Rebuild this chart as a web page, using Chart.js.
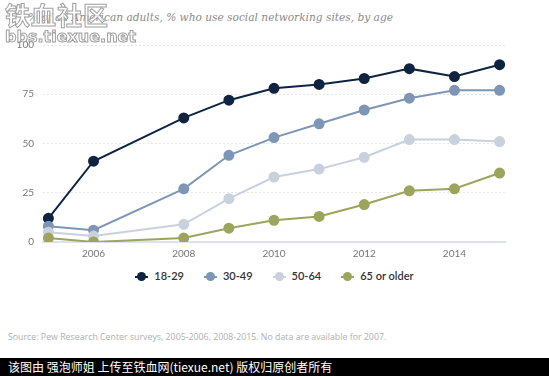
<!DOCTYPE html>
<html>
<head>
<meta charset="utf-8">
<script src="https://cdn.jsdelivr.net/npm/chart.js@4"></script>
<style>
  body { margin: 0; width: 549px; height: 376px; background: #fff; position: relative; overflow: hidden; font-family: Lato, "Open Sans", sans-serif; }
  #title { position: absolute; left: 28px; top: 11px; font: italic 10.6px "DejaVu Serif", "Liberation Serif", serif; color: #8a8a8a; white-space: nowrap; }
  #wrap { position: absolute; left: 0; top: 0; width: 549px; height: 266px; }
  #legend { position: absolute; left: 0; width: 549px; top: 269px; text-align: center; font: 600 11px Lato, "Open Sans", sans-serif; color: #333; }
  #legend span.item { display: inline-block; margin: 0 10px; }
  #legend i { display: inline-block; position: relative; width: 13px; height: 9px; margin-right: 6px; vertical-align: -1px; }
  #legend i b { position: absolute; left: 0; right: 0; top: 4px; height: 2px; }
  #legend i em { position: absolute; left: 2px; top: 0; width: 9px; height: 9px; border-radius: 50%; }
  #source { position: absolute; left: 8px; top: 331px; font: 8.8px "Open Sans", sans-serif; color: #b0b0b0; }
  #bar { position: absolute; left: 0; top: 358px; width: 549px; height: 18px; background: #000; color: #fff; font: 12px "Noto Sans CJK SC", sans-serif; line-height: 18px; padding-left: 8px; box-sizing: border-box; }
  #wm1 { position: absolute; left: 5px; top: -4px; font: bold 25px "Noto Sans CJK SC", sans-serif; color: rgba(255,255,255,0.65); -webkit-text-stroke: 1px #a0a0a0; letter-spacing: 1px; }
  #wm2 { position: absolute; left: 5px; top: 27px; font: bold 16px "DejaVu Sans", sans-serif; color: rgba(255,255,255,0.65); -webkit-text-stroke: 1px #a0a0a0; }
</style>
</head>
<body>
<div id="title">% of all American adults, % who use social networking sites, by age</div>
<div id="wrap"><canvas id="myChart"></canvas></div>
<div id="legend"></div>
<div id="source">Source: Pew Research Center surveys, 2005-2006, 2008-2015. No data are available for 2007.</div>
<div id="bar">该图由 强泡师姐 上传至铁血网(tiexue.net) 版权归原创者所有</div>
<div id="wm1">铁血社区</div>
<div id="wm2">bbs.tiexue.net</div>
<script>
const years = [2005, 2006, 2008, 2009, 2010, 2011, 2012, 2013, 2014, 2015];
const age18to29 = [12, 41, 63, 72, 78, 80, 83, 88, 84, 90];
const age30to49 = [8, 6, 27, 44, 53, 60, 67, 73, 77, 77];
const age50to64 = [5, 3, 9, 22, 33, 37, 43, 52, 52, 51];
const age65plus = [2, 0, 2, 7, 11, 13, 19, 26, 27, 35];
const xTicks = [2006, 2008, 2010, 2012, 2014];
const yTicks = [0, 25, 50, 75, 100];

const seriesNames = ['18-29', '30-49', '50-64', '65 or older'];
const seriesColors = ['#0f2440', '#7d96b6', '#c9d1dd', '#9ca55b'];
const seriesValues = [age18to29, age30to49, age50to64, age65plus];

const datasets = seriesNames.map((name, i) => ({
  label: name,
  data: years.map((y, j) => ({ x: y, y: seriesValues[i][j] })),
  borderColor: seriesColors[i],
  backgroundColor: seriesColors[i],
  borderWidth: 2,
  pointRadius: 4.5,
  pointHoverRadius: 4.5,
  tension: 0
}));

const ctx = document.getElementById('myChart').getContext('2d');
const chart = new Chart(ctx, {
  type: 'line',
  data: { datasets: datasets.slice().reverse() },
  options: {
    responsive: true,
    maintainAspectRatio: false,
    animation: false,
    layout: { padding: { top: 45, right: 44, left: 0, bottom: 0 } },
    plugins: { legend: { display: false }, tooltip: { enabled: false } },
    scales: {
      x: {
        type: 'linear',
        min: 2004.88,
        max: 2015.12,
        afterBuildTicks: (axis) => { axis.ticks = xTicks.map(v => ({ value: v })); },
        grid: { display: false, drawTicks: false },
        border: { display: true, color: '#dde3ec', width: 2 },
        ticks: { color: '#777', font: { size: 10, family: 'Lato' }, padding: 6, callback: v => String(v) }
      },
      y: {
        min: 0,
        max: 100,
        afterBuildTicks: (axis) => { axis.ticks = yTicks.map(v => ({ value: v })); },
        afterFit: (axis) => { axis.width = 43; },
        grid: {
          drawTicks: false,
          color: c => c.tick && c.tick.value === 0 ? 'rgba(0,0,0,0)' : '#e6e6e6',
          lineWidth: 1
        },
        border: { display: false, dash: [2, 2] },
        ticks: { color: '#777', font: { size: 10, family: 'Lato' }, padding: 9 }
      }
    }
  }
});

const legend = document.getElementById('legend');
legend.innerHTML = seriesNames.map((n, i) =>
  '<span class="item"><i><b style="background:' + seriesColors[i] + '"></b><em style="background:' + seriesColors[i] + '"></em></i>' + n + '</span>'
).join('');
</script>
</body>
</html>
